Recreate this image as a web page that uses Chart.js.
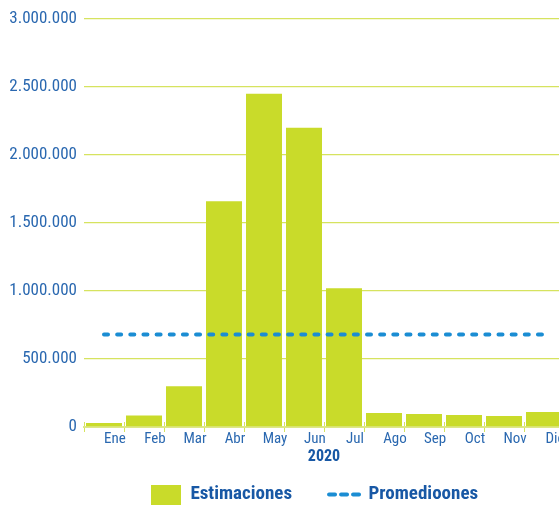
<!DOCTYPE html>
<html>
<head>
<meta charset="utf-8">
<script src="https://cdn.jsdelivr.net/npm/chart.js@4/dist/chart.umd.min.js"></script>
<style>
  html, body { margin: 0; padding: 0; background: #fff; overflow: hidden; }
  #wrap { position: relative; width: 630px; height: 514px; }
</style>
</head>
<body>
<div id="wrap"><canvas id="grafico"></canvas></div>
<script>
// Datos del gráfico
const meses = ['Ene', 'Feb', 'Mar', 'Abr', 'May', 'Jun', 'Jul', 'Ago', 'Sep', 'Oct', 'Nov', 'Dic'];
const estimaciones = [30000, 85000, 300000, 1660000, 2450000, 2200000, 1020000, 103000, 96000, 88000, 81000, 110000];
const promedios = [680000, 680000, 680000, 680000, 680000, 680000, 680000, 680000, 680000, 680000, 680000, 680000];
const anio = '2020';
const yMin = 0;
const yMax = 3000000;
const yPaso = 500000;
const nombres = ['Estimaciones', 'Promedioones'];

const verde = '#c9db2a';
const verdeGrid = '#d6e35f';
const azulLinea = '#1b8dd3';
const azulTexto = '#2a68b0';
const azulLeyenda = '#1858a5';
const fuente = "'Roboto Condensed', 'DejaVu Sans Condensed', sans-serif";

const miles = (v) => String(v).replace(/\B(?=(\d{3})+(?!\d))/g, '.');

// Muestra de color para la leyenda
const muestra = document.createElement('canvas');
muestra.width = 30;
muestra.height = 20;
const mctx = muestra.getContext('2d');
mctx.fillStyle = verde;
mctx.fillRect(0, 0, 30, 20);

const ctx = document.getElementById('grafico').getContext('2d');
new Chart(ctx, {
  type: 'bar',
  data: {
    labels: meses,
    datasets: [
      {
        label: nombres[0],
        data: estimaciones,
        backgroundColor: verde,
        borderWidth: 0,
        barPercentage: 0.9,
        categoryPercentage: 1,
        order: 2
      },
      {
        type: 'line',
        label: nombres[1],
        data: promedios,
        borderColor: azulLinea,
        borderWidth: 4,
        borderDash: [4, 9.15],
        borderCapStyle: 'round',
        pointRadius: 0,
        fill: false,
        order: 1
      }
    ]
  },
  options: {
    responsive: true,
    maintainAspectRatio: false,
    animation: false,
    devicePixelRatio: 1,
    layout: { padding: { left: 0, right: 1, top: 19, bottom: 0 } },
    plugins: {
      tooltip: { enabled: false },
      legend: {
        position: 'bottom',
        align: 'center',
        labels: {
          usePointStyle: true,
          pointStyleWidth: 30,
          padding: 37,
          color: azulLeyenda,
          font: { family: fuente, size: 19, weight: 'bold' },
          generateLabels: () => [
            { text: nombres[0], pointStyle: muestra, fillStyle: verde, strokeStyle: verde, lineWidth: 0, fontColor: azulLeyenda, datasetIndex: 0, hidden: false },
            { text: nombres[1], pointStyle: 'line', fillStyle: azulLinea, strokeStyle: azulLinea, lineWidth: 4, lineDash: [6, 6], lineCap: 'round', fontColor: azulLeyenda, datasetIndex: 1, hidden: false }
          ]
        }
      }
    },
    scales: {
      x: {
        offset: true,
        grid: {
          offset: true,
          color: verdeGrid,
          lineWidth: 1,
          tickLength: 5,
          drawOnChartArea: true
        },
        border: { display: true, color: '#dde787', width: 2, dash: [0, 403, 4, 100] },
        ticks: {
          color: azulTexto,
          font: { family: fuente, size: 15 },
          padding: -1.5,
          labelOffset: 11,
          maxRotation: 0,
          autoSkip: false
        },
        title: {
          display: true,
          text: anio,
          color: azulLeyenda,
          font: { family: fuente, size: 16, weight: 'bold' },
          padding: { top: 0, bottom: -19 }
        },
        afterFit: (s) => { s.height = 21; }
      },
      y: {
        min: yMin,
        max: yMax,
        grid: { color: verdeGrid, lineWidth: 1.3, drawTicks: false },
        border: { display: false },
        ticks: {
          stepSize: yPaso,
          color: azulTexto,
          font: { family: fuente, size: 17 },
          padding: 7,
          callback: (v) => miles(v)
        },
        afterFit: (s) => { s.width = 84; }
      },
      // eje vacío a la derecha: reserva el hueco que centra la leyenda
      yDer: {
        position: 'right',
        grid: { display: false },
        border: { display: false },
        ticks: { display: false },
        afterFit: (s) => { s.width = 65; }
      }
    }
  }
});
</script>
</body>
</html>
